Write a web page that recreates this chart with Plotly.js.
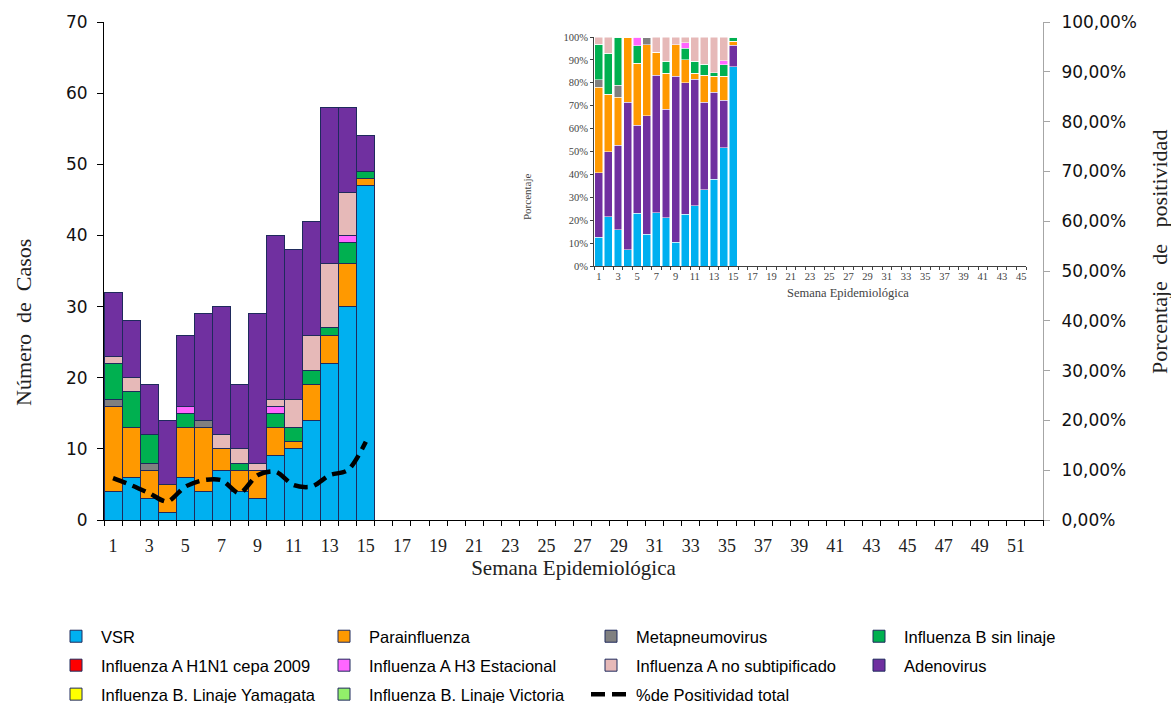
<!DOCTYPE html>
<html><head><meta charset="utf-8">
<script src="https://cdn.plot.ly/plotly-3.0.1.min.js"></script>
<style>html,body{margin:0;padding:0;background:#fff}#chart{width:1171px;height:703px}</style>
</head><body><div id="chart"></div>
<script>
const weeks = [1,2,3,4,5,6,7,8,9,10,11,12,13,14,15];
const vsr      = [4,6,3,1,6,4,7,4,3,9,10,14,22,30,47];
const para     = [12,7,4,4,7,9,3,3,4,4,1,5,4,6,1];
const meta     = [1,0,1,0,0,1,0,0,0,0,0,0,0,0,0];
const fluB     = [5,5,4,0,2,0,0,1,0,2,2,2,1,3,1];
const h1n1     = [0,0,0,0,0,0,0,0,0,0,0,0,0,0,0];
const h3       = [0,0,0,0,1,0,0,0,0,1,0,0,0,1,0];
const fluAns   = [1,2,0,0,0,0,2,2,1,1,4,5,9,6,0];
const adeno    = [9,8,7,9,10,15,18,9,21,23,21,16,22,12,5];
const yamagata = [0,0,0,0,0,0,0,0,0,0,0,0,0,0,0];
const victoria = [0,0,0,0,0,0,0,0,0,0,0,0,0,0,0];
const positividad = [0.084,0.070,0.054,0.037,0.067,0.080,0.080,0.054,0.090,0.097,0.070,0.067,0.090,0.100,0.157];

const C = {vsr:'#00B0F0', para:'#FF9900', meta:'#808080', fluB:'#00B050', h1n1:'#FF0000',
  h3:'#FF66FF', fluAns:'#E6B9B8', adeno:'#7030A0', yam:'#FFFF00', vic:'#92F06A'};

const totals = weeks.map((w,i)=>vsr[i]+para[i]+meta[i]+fluB[i]+h1n1[i]+h3[i]+fluAns[i]+adeno[i]+yamagata[i]+victoria[i]);
const pct = arr => arr.map((v,i)=> totals[i] ? v/totals[i]*100 : 0);

function mainBar(name, vals, color, legend){
  return {type:'bar', x:weeks, y:vals, name:name, xaxis:'x', yaxis:'y', legend:legend, legendgroup:name,
    marker:{color:color, line:{color:'#1F2A5C', width:1}}};
}
function insetBar(name, vals, color){
  return {type:'bar', x:weeks, y:pct(vals), name:name, xaxis:'x3', yaxis:'y3', showlegend:false,
    width:0.82, marker:{color:color, line:{color:'#ffffff', width:0.5}}};
}

const data = [
  mainBar('VSR', vsr, C.vsr, 'legend'),
  mainBar('Parainfluenza', para, C.para, 'legend2'),
  mainBar('Metapneumovirus', meta, C.meta, 'legend3'),
  mainBar('Influenza B sin linaje', fluB, C.fluB, 'legend4'),
  mainBar('Influenza A H1N1 cepa 2009', h1n1, C.h1n1, 'legend'),
  mainBar('Influenza A H3 Estacional', h3, C.h3, 'legend2'),
  mainBar('Influenza A no subtipificado', fluAns, C.fluAns, 'legend3'),
  mainBar('Adenovirus', adeno, C.adeno, 'legend4'),
  mainBar('Influenza B. Linaje Yamagata', yamagata, C.yam, 'legend'),
  mainBar('Influenza B. Linaje Victoria', victoria, C.vic, 'legend2'),
  {type:'scatter', mode:'lines', x:weeks, y:positividad, name:'%de Positividad total', xaxis:'x', yaxis:'y2',
   legend:'legend3', legendgroup:'pos', line:{color:'#000', width:4.5, dash:'14px,7px', shape:'spline', smoothing:0.8}},
  insetBar('VSR', vsr, C.vsr),
  insetBar('Adenovirus', adeno, C.adeno),
  insetBar('Parainfluenza', para, C.para),
  insetBar('Metapneumovirus', meta, C.meta),
  insetBar('Influenza B sin linaje', fluB, C.fluB),
  insetBar('Influenza A H3 Estacional', h3, C.h3),
  insetBar('Influenza A no subtipificado', fluAns, C.fluAns)
];

const L = 104, T = 22, W = 939, H = 498;
const px = x => (x-L)/W;
const py = y => (T+H-y)/H;
const serif = 'Liberation Serif, DejaVu Serif, serif';
const sans = 'DejaVu Sans, Verdana, sans-serif';
const legFont = {family:'Liberation Sans, Arial, sans-serif', size:16.5, color:'#000'};
function leg(x){
  return {orientation:'v', x:px(x), xanchor:'left', y:py(619), yanchor:'top',
    itemwidth:40, font:legFont, bgcolor:'rgba(0,0,0,0)', traceorder:'grouped', tracegroupgap:4.5};
}

const layout = {
  width:1171, height:703,
  margin:{l:L, r:1171-L-W, t:T, b:703-T-H, autoexpand:false},
  paper_bgcolor:'#fff', plot_bgcolor:'rgba(0,0,0,0)',
  separators:',.',
  barmode:'stack', bargap:0,
  xaxis:{domain:[0,1], anchor:'y', range:[0.5,52.5], tickmode:'linear', tick0:1, dtick:2, ticks:'',
    showline:true, linecolor:'#000', linewidth:1, showgrid:false, zeroline:false, ticklabelstandoff:9,
    minor:{tick0:0.5, dtick:1, ticks:'outside', ticklen:5, tickcolor:'#000', showgrid:false},
    tickfont:{family:serif, size:18, color:'#222'},
    title:{text:'Semana Epidemiológica', font:{family:serif, size:21, color:'#222'}, standoff:3}},
  yaxis:{domain:[0,1], anchor:'x', range:[0,70], dtick:10, ticks:'outside', ticklen:6, tickcolor:'#000',
    showline:true, linecolor:'#000', showgrid:false, zeroline:false, ticklabelstandoff:6,
    tickfont:{family:sans, size:17, color:'#111'}},
  yaxis2:{overlaying:'y', side:'right', anchor:'x', range:[0,1], dtick:0.1, tickformat:'.2%',
    ticks:'outside', ticklen:6, tickcolor:'#A6A6A6', showline:true, linecolor:'#A6A6A6', ticklabelstandoff:8,
    showgrid:false, zeroline:false, tickfont:{family:sans, size:17, color:'#111'}},
  xaxis3:{domain:[px(594), px(1026)], anchor:'y3', range:[0.5,45.5], tickmode:'linear', tick0:1, dtick:2,
    ticks:'', showline:true, linecolor:'#404040', showgrid:false, zeroline:false,
    minor:{tick0:0.5, dtick:1, ticks:'outside', ticklen:3, tickcolor:'#404040', showgrid:false},
    tickfont:{family:serif, size:10.5, color:'#444'}},
  yaxis3:{domain:[py(266), py(37)], anchor:'x3', range:[0,100], dtick:10, ticksuffix:'%',
    ticks:'outside', ticklen:3, tickcolor:'#404040', showline:true, linecolor:'#404040',
    showgrid:false, zeroline:false, tickfont:{family:serif, size:10.5, color:'#444'}},
  legend:leg(51), legend2:leg(319), legend3:leg(586), legend4:leg(854),
  annotations:[
    {text:'Número\u00a0 de\u00a0 Casos', xref:'paper', yref:'paper', x:px(23), y:py(323), textangle:-90,
     xanchor:'center', yanchor:'middle', showarrow:false, font:{family:serif, size:22, color:'#222'}},
    {text:'Porcentaje\u00a0\u00a0 de\u00a0\u00a0 positividad', xref:'paper', yref:'paper', x:px(1160), y:py(252), textangle:-90,
     xanchor:'center', yanchor:'middle', showarrow:false, font:{family:serif, size:22, color:'#222'}},
    {text:'Porcentaje', xref:'paper', yref:'paper', x:px(527), y:py(197), textangle:-90,
     xanchor:'center', yanchor:'middle', showarrow:false, font:{family:serif, size:11, color:'#444'}},
    {text:'Semana Epidemiológica', xref:'paper', yref:'paper', x:px(848), y:py(293),
     xanchor:'center', yanchor:'middle', showarrow:false, font:{family:serif, size:12.5, color:'#444'}}
  ],
  showlegend:true
};

Plotly.newPlot('chart', data, layout, {displayModeBar:false, staticPlot:true});
</script></body></html>
